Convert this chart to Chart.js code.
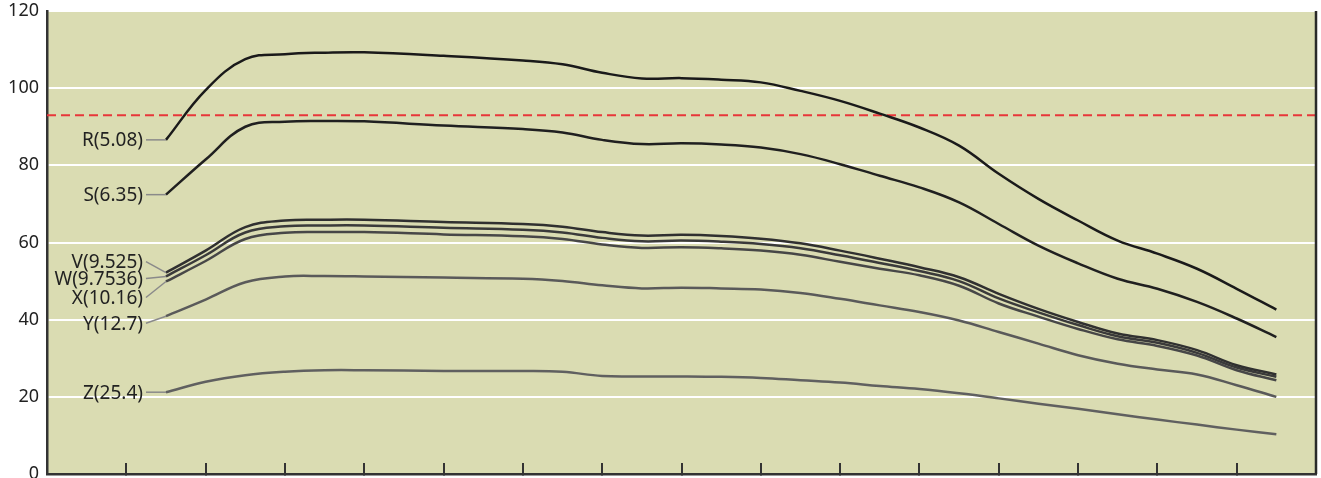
<!DOCTYPE html>
<html>
<head>
<meta charset="utf-8">
<script src="https://cdn.jsdelivr.net/npm/chart.js@4/dist/chart.umd.min.js"></script>
<style>
  body { margin: 0; background: #fff; }
  #caja { width: 1321px; height: 478px; position: relative; }
</style>
</head>
<body>
<div id="caja"><canvas id="grafico"></canvas></div>
<script>
// posiciones en x (unidad = una marca del eje)
const posX = [0.5, 1, 1.5, 2, 2.5, 3, 4, 5, 5.5, 6, 6.5, 7, 7.5, 8, 8.5, 9, 9.5, 10, 10.5, 11, 11.5, 12, 12.5, 13, 13.5, 14, 14.5]

const serieR = [86.6, 99.5, 107.5, 108.8, 109.2, 109.3, 108.4, 107.2, 106.2, 104.0, 102.5, 102.6, 102.2, 101.5, 99.3, 96.7, 93.4, 89.8, 85.1, 77.8, 71.3, 65.7, 60.5, 57.1, 53.2, 48.0, 42.6]
const serieS = [72.4, 81.5, 90.0, 91.3, 91.5, 91.4, 90.3, 89.4, 88.5, 86.6, 85.5, 85.7, 85.4, 84.6, 82.9, 80.3, 77.3, 74.3, 70.4, 64.8, 59.2, 54.6, 50.6, 48.0, 44.6, 40.3, 35.5]
const serieV = [52.2, 57.9, 64.0, 65.7, 65.9, 65.9, 65.3, 64.8, 64.1, 62.7, 61.8, 62.0, 61.7, 61.0, 59.8, 57.9, 55.8, 53.6, 51.0, 46.7, 42.8, 39.4, 36.4, 34.7, 32.1, 28.2, 25.8]
const serieW = [51.2, 56.7, 62.6, 64.2, 64.4, 64.4, 63.8, 63.3, 62.6, 61.2, 60.3, 60.5, 60.2, 59.6, 58.5, 56.7, 54.7, 52.6, 50.0, 45.5, 41.9, 38.6, 35.7, 34.0, 31.4, 27.6, 25.2]
const serieX = [49.9, 55.2, 60.9, 62.5, 62.7, 62.7, 62.1, 61.6, 60.9, 59.5, 58.6, 58.8, 58.5, 57.9, 56.8, 55.0, 53.2, 51.5, 48.8, 44.2, 40.8, 37.6, 34.9, 33.2, 30.7, 26.9, 24.3]
const serieY = [40.9, 45.2, 49.7, 51.2, 51.3, 51.2, 50.9, 50.6, 50.0, 48.9, 48.1, 48.3, 48.1, 47.8, 46.9, 45.4, 43.7, 42.0, 39.8, 36.8, 33.8, 30.8, 28.6, 27.1, 25.8, 23.0, 20.0]
const serieZ = [21.2, 23.9, 25.6, 26.5, 26.9, 26.9, 26.7, 26.7, 26.5, 25.4, 25.3, 25.3, 25.2, 24.9, 24.3, 23.7, 22.8, 22.0, 20.9, 19.6, 18.2, 16.9, 15.5, 14.1, 12.8, 11.5, 10.3]

const etiquetas = ["R(5.08)", "S(6.35)", "V(9.525)", "W(9.7536)", "X(10.16)", "Y(12.7)", "Z(25.4)"]
const valoresY = [0, 20, 40, 60, 80, 100, 120]
const limite = 93
const marcasX = [0, 1, 2, 3, 4, 5, 6, 7, 8, 9, 10, 11, 12, 13, 14]

const series = [serieR, serieS, serieV, serieW, serieX, serieY, serieZ]
const colores = ["#1a1a1a", "#202020", "#303030", "#3a3a3a", "#474747", "#5a5a5a", "#606060"]
// desplazamiento vertical de cada etiqueta respecto al inicio de su curva
const despl = [0, 0, -11, 2, 16, 7, 0]

const datasets = series.map((s, i) => ({
  label: etiquetas[i],
  data: s.map((v, j) => ({ x: posX[j], y: v })),
  borderColor: colores[i],
  borderWidth: 2.5,
  pointRadius: 0,
  tension: 0.4,
  fill: false,
}))

datasets.push({
  label: "limite",
  data: [{ x: -1, y: limite }, { x: 15, y: limite }],
  borderColor: "#e8363a",
  borderWidth: 2,
  borderDash: [9, 5],
  pointRadius: 0,
  fill: false,
})

const fondo = {
  id: "fondo",
  beforeDraw: (chart) => {
    const { ctx, chartArea: a } = chart
    ctx.save()
    ctx.fillStyle = "#dadcb2"
    ctx.fillRect(a.left, a.top, a.right - a.left, a.bottom - a.top)
    ctx.restore()
  },
  afterDraw: (chart) => {
    const { ctx, chartArea: a } = chart
    ctx.save()
    ctx.strokeStyle = "#2a2a2a"
    ctx.lineWidth = 2.5
    ctx.beginPath()
    ctx.moveTo(a.right, a.top)
    ctx.lineTo(a.right, a.bottom)
    ctx.stroke()
    ctx.restore()
  },
}

const rotulos = {
  id: "rotulos",
  afterDatasetsDraw: (chart) => {
    const ctx = chart.ctx
    ctx.save()
    ctx.font = "19px 'Noto Sans', sans-serif"
    ctx.textAlign = "right"
    ctx.textBaseline = "middle"
    series.forEach((s, i) => {
      const p = chart.getDatasetMeta(i).data[0]
      const ly = p.y + despl[i]
      ctx.strokeStyle = "#8a8a8a"
      ctx.lineWidth = 1.5
      ctx.beginPath()
      ctx.moveTo(p.x - 20, ly)
      ctx.lineTo(p.x, p.y)
      ctx.stroke()
      ctx.fillStyle = "#222"
      ctx.fillText(etiquetas[i], p.x - 23, ly + 1)
    })
    ctx.restore()
  },
}

new Chart(document.getElementById("grafico"), {
  type: "line",
  data: { datasets: datasets },
  plugins: [fondo, rotulos],
  options: {
    responsive: true,
    maintainAspectRatio: false,
    animation: false,
    layout: { padding: { top: 11, right: 5, left: 0, bottom: 0 } },
    plugins: { legend: { display: false }, tooltip: { enabled: false } },
    scales: {
      x: {
        type: "linear",
        min: -1,
        max: 15,
        afterBuildTicks: (scale) => {
          scale.ticks = marcasX.map((v) => ({ value: v }))
        },
        afterFit: (scale) => {
          scale.height = 4
          scale.paddingLeft = 0
          scale.paddingRight = 0
        },
        ticks: { display: false },
        grid: {
          drawOnChartArea: false,
          drawTicks: true,
          tickLength: -11,
          color: "#333",
          lineWidth: 2,
        },
        border: { color: "#333", width: 2.5 },
      },
      y: {
        min: 0,
        max: 120,
        afterBuildTicks: (scale) => {
          scale.ticks = valoresY.map((v) => ({ value: v }))
        },
        afterFit: (scale) => {
          scale.width = 47
          scale.paddingTop = 0
          scale.paddingBottom = 0
        },
        ticks: { color: "#222", font: { family: "'Noto Sans', sans-serif", size: 18 }, padding: 8 },
        grid: { color: "#ffffff", lineWidth: 2, drawTicks: false },
        border: { color: "#333", width: 2.5 },
      },
    },
  },
})
</script>
</body>
</html>
